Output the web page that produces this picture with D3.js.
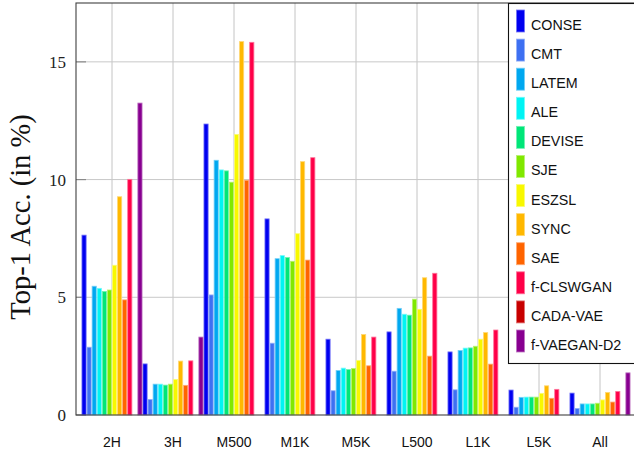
<!DOCTYPE html>
<html>
<head>
<meta charset="utf-8">
<script src="https://cdn.jsdelivr.net/npm/d3@7"></script>
<style>
  html, body { margin: 0; padding: 0; background: #fff; }
  svg { display: block; }
</style>
</head>
<body>
<svg id="chart" width="634" height="454"></svg>
<script>
const categories = ["2H", "3H", "M500", "M1K", "M5K", "L500", "L1K", "L5K", "All"];
const methods = ["CONSE", "CMT", "LATEM", "ALE", "DEVISE", "SJE", "ESZSL", "SYNC", "SAE", "f-CLSWGAN", "CADA-VAE", "f-VAEGAN-D2"];
const methodColors = ["#0000f0", "#3e70f2", "#00a8f0", "#00f4f4", "#00e678", "#80e800", "#f8f800", "#ffb800", "#ff6400", "#ff0048", "#c80000", "#880090"];

const valCONSE    = [7.64, 2.17, 12.36, 8.33, 3.22, 3.53, 2.68, 1.06, 0.93];
const valCMT      = [2.88, 0.66, 5.10, 3.05, 1.03, 1.86, 1.07, 0.33, 0.28];
const valLATEM    = [5.47, 1.31, 10.82, 6.64, 1.89, 4.53, 2.74, 0.75, 0.47];
const valALE      = [5.38, 1.31, 10.41, 6.77, 1.99, 4.28, 2.84, 0.76, 0.47];
const valDEVISE   = [5.25, 1.27, 10.37, 6.69, 1.93, 4.24, 2.85, 0.76, 0.47];
const valSJE      = [5.31, 1.31, 9.89, 6.53, 1.98, 4.92, 2.92, 0.76, 0.50];
const valESZSL    = [6.36, 1.51, 11.92, 7.70, 2.32, 4.49, 3.22, 0.92, 0.64];
const valSYNC     = [9.27, 2.29, 15.86, 10.76, 3.42, 5.83, 3.50, 1.24, 0.96];
const valSAE      = [4.89, 1.26, 9.97, 6.58, 2.09, 2.50, 2.16, 0.71, 0.55];
const valCLSWGAN  = [10.01, 2.30, 15.83, 10.93, 3.31, 6.02, 3.61, 1.09, 1.00];
const valCADAVAE  = [0, 0, 0, 0, 0, 0, 0, 0, 0];
const valVAEGAN   = [13.25, 3.31, 0, 0, 0, 0, 0, 0, 1.79];

const yTicks = [0, 5, 10, 15];
const yLabel = "Top-1 Acc. (in %)";

const seriesValues = [valCONSE, valCMT, valLATEM, valALE, valDEVISE, valSJE, valESZSL, valSYNC, valSAE, valCLSWGAN, valCADAVAE, valVAEGAN];

const svg = d3.select("#chart");
const plot = { left: 76, top: 3, right: 640, bottom: 415 };

const x = d3.scaleBand().domain(categories).range([81.5, 630.5]).paddingInner(0).paddingOuter(0);
const xi = d3.scaleBand().domain(methods).range([0, x.bandwidth()]).padding(0);
const y = d3.scaleLinear().domain([0, 17.5]).range([plot.bottom, plot.top]);

// grid
const grid = svg.append("g");
grid.selectAll("line.v").data(categories).join("line")
  .attr("x1", d => x(d) + x.bandwidth() / 2).attr("x2", d => x(d) + x.bandwidth() / 2)
  .attr("y1", plot.top).attr("y2", plot.bottom)
  .attr("stroke", "#c4c4c4").attr("stroke-width", 1);
grid.selectAll("line.h").data(yTicks.filter(t => t > 0)).join("line")
  .attr("x1", plot.left).attr("x2", plot.right)
  .attr("y1", d => y(d)).attr("y2", d => y(d))
  .attr("stroke", "#c8c8c8").attr("stroke-width", 1);

// tick marks (inside)
svg.append("g").selectAll("line").data(yTicks).join("line")
  .attr("x1", plot.left).attr("x2", plot.left + 10)
  .attr("y1", d => y(d)).attr("y2", d => y(d))
  .attr("stroke", "#8a8a8a").attr("stroke-width", 1.2);

// bars
const rows = [];
methods.forEach((m, mi) => {
  categories.forEach((c, ci) => rows.push({ m, mi, c, v: seriesValues[mi][ci] }));
});
svg.append("g").selectAll("rect").data(rows).join("rect")
  .attr("x", d => x(d.c) + xi(d.m) + 0.45)
  .attr("width", xi.bandwidth() - 0.9)
  .attr("y", d => y(d.v))
  .attr("height", d => y(0) - y(d.v))
  .attr("fill", d => methodColors[d.mi])
  .attr("stroke", d => d3.interpolateRgb(methodColors[d.mi], "#ffffff")(0.45))
  .attr("stroke-width", 0.8);

// frame
svg.append("rect")
  .attr("x", plot.left).attr("y", plot.top)
  .attr("width", plot.right - plot.left).attr("height", plot.bottom - plot.top)
  .attr("fill", "none").attr("stroke", "#404040").attr("stroke-width", 1.1);

// y tick labels
svg.append("g").selectAll("text").data(yTicks).join("text")
  .attr("x", 66).attr("y", d => y(d))
  .attr("dy", "0.36em")
  .attr("text-anchor", "end")
  .attr("font-family", "'Liberation Serif', serif")
  .attr("font-size", 17)
  .attr("fill", "#222")
  .text(d => d);

// x labels
svg.append("g").selectAll("text").data(categories).join("text")
  .attr("x", d => x(d) + x.bandwidth() / 2).attr("y", 447)
  .attr("text-anchor", "middle")
  .attr("font-family", "'Liberation Sans', Arial, sans-serif")
  .attr("font-size", 14)
  .attr("fill", "#111")
  .text(d => d);

// y label
svg.append("text")
  .attr("transform", "translate(30,217) rotate(-90)")
  .attr("text-anchor", "middle")
  .attr("font-family", "'Liberation Serif', serif")
  .attr("font-size", 28.5)
  .attr("fill", "#111")
  .text(yLabel);

// legend
const legend = svg.append("g");
legend.append("rect")
  .attr("x", 508.5).attr("y", 3.5).attr("width", 140).attr("height", 360)
  .attr("fill", "#fff").attr("stroke", "#111").attr("stroke-width", 1.1);
const ly = d3.scalePoint().domain(methods).range([21, 341]);
const items = legend.selectAll("g.item").data(methods).join("g");
items.append("rect")
  .attr("x", 516.5).attr("y", d => ly(d) - 11).attr("width", 8).attr("height", 22)
  .attr("fill", (d, i) => methodColors[i])
  .attr("stroke", (d, i) => d3.interpolateRgb(methodColors[i], "#ffffff")(0.45))
  .attr("stroke-width", 0.8);
items.append("text")
  .attr("x", 531).attr("y", d => ly(d) + 9)
  .attr("font-family", "'Liberation Sans', Arial, sans-serif")
  .attr("font-size", 14.3)
  .attr("fill", "#111")
  .text(d => d);
</script>
</body>
</html>
